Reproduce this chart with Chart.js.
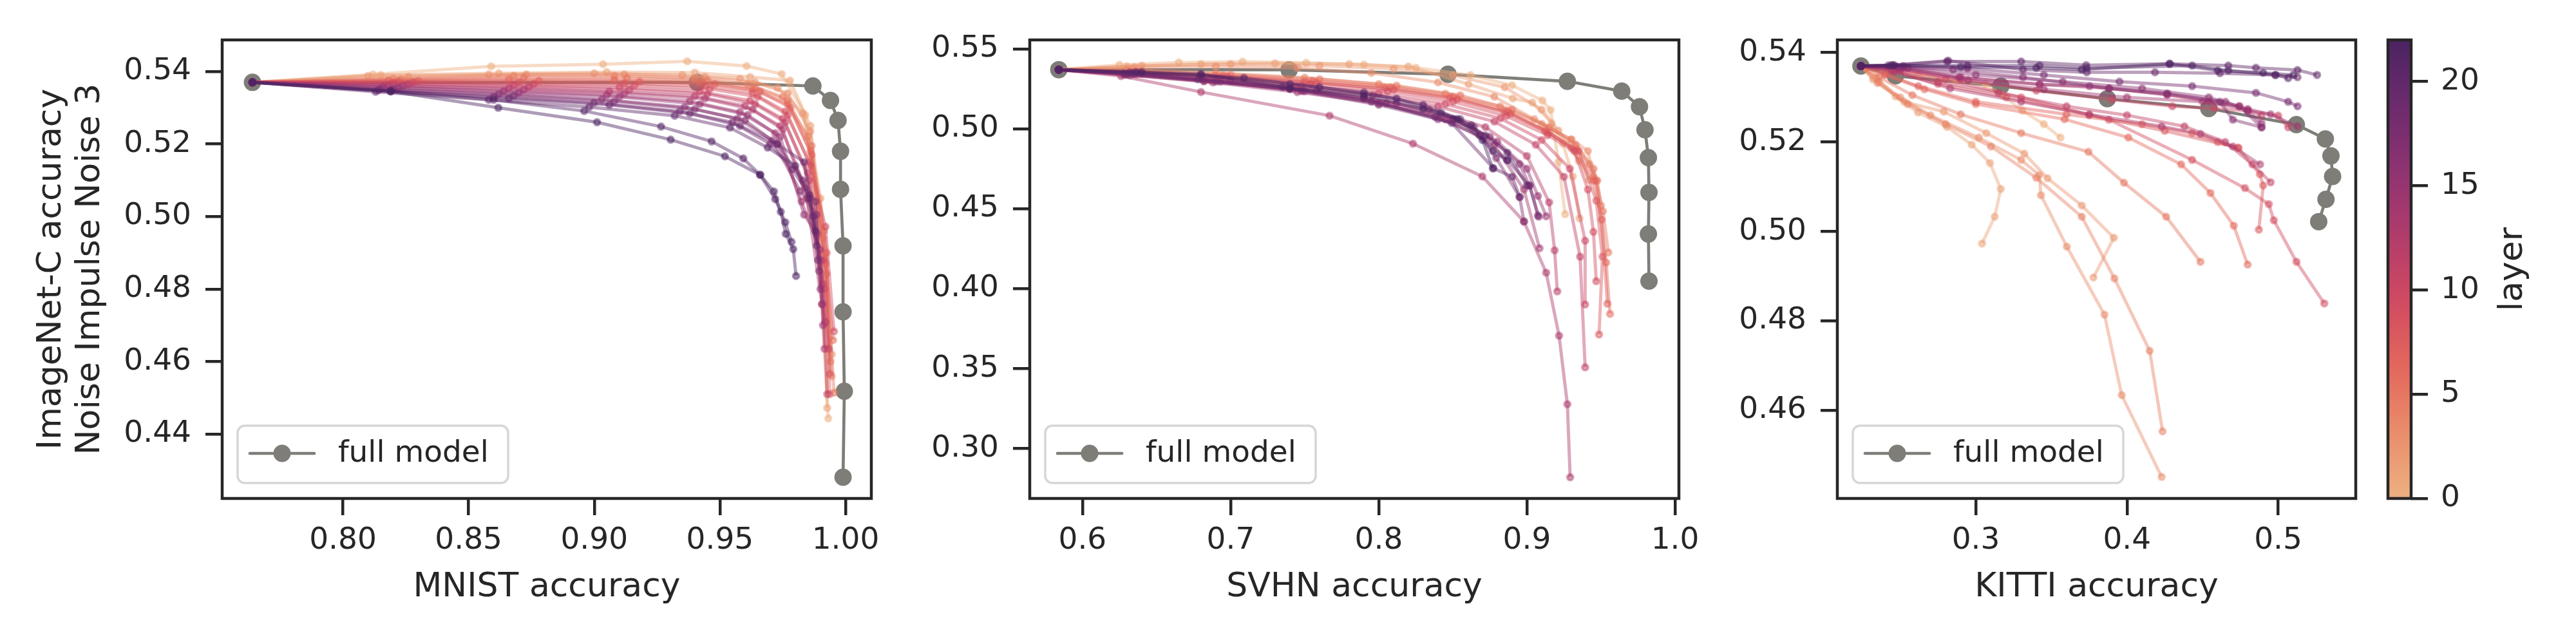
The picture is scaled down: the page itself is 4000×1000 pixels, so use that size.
<!DOCTYPE html>
<html>
<head>
<meta charset="utf-8">
<script src="https://cdn.jsdelivr.net/npm/chart.js@4.4.1/dist/chart.umd.min.js"></script>
<style>
html, body { margin: 0; padding: 0; background: #fff; }
#wrap { position: relative; width: 4000px; height: 1000px; overflow: hidden; background: #fff; }
canvas { position: absolute; top: 0; }
</style>
</head>
<body>
<div id="wrap">
  <canvas id="mnist" width="1368" height="1000" style="left:45px"></canvas>
  <canvas id="svhn" width="1268" height="1000" style="left:1399px"></canvas>
  <canvas id="kitti" width="1045" height="1000" style="left:2653px"></canvas>
  <canvas id="cbar" width="294" height="1000" style="left:3700px"></canvas>
</div>
<script>
// layer index of every coloured curve (same in all three panels)
const layers = [0, 1, 2, 3, 4, 5, 6, 7, 8, 9, 10, 11, 12, 13, 14, 15, 16, 17, 18, 19, 20, 21, 22];
const layerMax = 22;
const cbarTicks = [0, 5, 10, 15, 20];

// ---- MNIST panel ----
const mnistX = [
  [0.764, 0.812, 0.859, 0.9035, 0.937, 0.9606, 0.9746, 0.984, 0.989, 0.9931],
  [0.764, 0.815, 0.862, 0.905, 0.940, 0.962, 0.9779, 0.986, 0.9905, 0.9927],
  [0.764, 0.810, 0.858, 0.900, 0.935, 0.958, 0.973, 0.983, 0.990, 0.9945],
  [0.764, 0.826, 0.873, 0.912, 0.944, 0.964, 0.977, 0.986, 0.9915, 0.9945],
  [0.764, 0.820, 0.868, 0.908, 0.940, 0.961, 0.975, 0.985, 0.991, 0.9940],
  [0.764, 0.823, 0.872, 0.913, 0.945, 0.964, 0.977, 0.9865, 0.9925, 0.9954],
  [0.764, 0.818, 0.866, 0.908, 0.942, 0.963, 0.977, 0.986, 0.9920, 0.9950],
  [0.764, 0.830, 0.878, 0.918, 0.948, 0.966, 0.978, 0.9865, 0.9925, 0.9937],
  [0.764, 0.822, 0.870, 0.912, 0.944, 0.963, 0.976, 0.9855, 0.9915, 0.9937],
  [0.764, 0.828, 0.876, 0.916, 0.946, 0.965, 0.977, 0.9860, 0.9920, 0.9954],
  [0.764, 0.820, 0.868, 0.910, 0.942, 0.962, 0.975, 0.9850, 0.9915, 0.9933],
  [0.764, 0.826, 0.874, 0.914, 0.945, 0.964, 0.976, 0.9855, 0.9910, 0.9927],
  [0.764, 0.818, 0.866, 0.906, 0.940, 0.960, 0.974, 0.9840, 0.9906, 0.9920],
  [0.764, 0.824, 0.872, 0.912, 0.944, 0.963, 0.975, 0.9845, 0.9903, 0.9916],
  [0.764, 0.816, 0.864, 0.905, 0.938, 0.958, 0.972, 0.9825, 0.9899, 0.9910],
  [0.764, 0.822, 0.870, 0.910, 0.942, 0.961, 0.974, 0.9835, 0.9886, 0.9907],
  [0.764, 0.815, 0.862, 0.903, 0.936, 0.957, 0.971, 0.9820, 0.9884, 0.9900],
  [0.764, 0.820, 0.868, 0.908, 0.940, 0.960, 0.9728, 0.9830, 0.9880, 0.9895],
  [0.764, 0.814, 0.860, 0.900, 0.934, 0.955, 0.970, 0.9788, 0.9856, 0.9890],
  [0.764, 0.819, 0.866, 0.906, 0.938, 0.958, 0.9728, 0.9835, 0.9870, 0.9885],
  [0.764, 0.813, 0.858, 0.898, 0.932, 0.954, 0.9690, 0.9800, 0.9856, 0.9880],
  [0.764, 0.819, 0.860, 0.896, 0.9266, 0.9467, 0.9593, 0.966, 0.972, 0.976, 0.9785],
  [0.764, 0.819, 0.8618, 0.9011, 0.9304, 0.952, 0.966, 0.9715, 0.9742, 0.9762, 0.9792, 0.9803]
];
const mnistY = [
  [0.537, 0.5392, 0.5414, 0.5420, 0.5428, 0.5415, 0.5393, 0.528, 0.495, 0.4443],
  [0.537, 0.5390, 0.5395, 0.5398, 0.5397, 0.5385, 0.5375, 0.525, 0.490, 0.4472],
  [0.537, 0.5388, 0.5392, 0.5395, 0.5390, 0.5380, 0.5355, 0.5285, 0.505, 0.462],
  [0.537, 0.5385, 0.5392, 0.5392, 0.5385, 0.5370, 0.5340, 0.5235, 0.496, 0.4560],
  [0.537, 0.5380, 0.5388, 0.5388, 0.5380, 0.5365, 0.5330, 0.522, 0.494, 0.4600],
  [0.537, 0.5378, 0.5383, 0.5382, 0.5375, 0.5355, 0.5320, 0.5195, 0.4842, 0.4514],
  [0.537, 0.5376, 0.5378, 0.5377, 0.5370, 0.5350, 0.5310, 0.5180, 0.4870, 0.4659],
  [0.537, 0.5374, 0.5374, 0.5372, 0.5365, 0.5345, 0.5300, 0.5170, 0.4900, 0.4510],
  [0.537, 0.5372, 0.5370, 0.5367, 0.5360, 0.5340, 0.5290, 0.5150, 0.4880, 0.4566],
  [0.537, 0.5370, 0.5366, 0.5362, 0.5352, 0.5330, 0.5280, 0.5140, 0.4972, 0.4683],
  [0.537, 0.5368, 0.5362, 0.5356, 0.5345, 0.5320, 0.5270, 0.5120, 0.4800, 0.4635],
  [0.537, 0.5365, 0.5358, 0.5350, 0.5338, 0.5310, 0.5260, 0.5100, 0.4814, 0.4510],
  [0.537, 0.5362, 0.5354, 0.5345, 0.5332, 0.5305, 0.5250, 0.5080, 0.4758, 0.4709],
  [0.537, 0.5360, 0.5350, 0.5340, 0.5325, 0.5295, 0.5240, 0.5050, 0.4879, 0.4635],
  [0.537, 0.5358, 0.5346, 0.5335, 0.5318, 0.5288, 0.5230, 0.5041, 0.4909, 0.4700],
  [0.537, 0.5355, 0.5342, 0.5330, 0.5310, 0.5280, 0.5220, 0.5005, 0.4952, 0.4758],
  [0.537, 0.5352, 0.5338, 0.5323, 0.5302, 0.5270, 0.5210, 0.5070, 0.5005, 0.4800],
  [0.537, 0.5350, 0.5334, 0.5318, 0.5296, 0.5265, 0.5200, 0.5100, 0.5041, 0.4850],
  [0.537, 0.5348, 0.5330, 0.5314, 0.5290, 0.5260, 0.5200, 0.5130, 0.5060, 0.4880],
  [0.537, 0.5346, 0.5326, 0.5308, 0.5284, 0.5250, 0.5200, 0.5150, 0.5000, 0.4920],
  [0.537, 0.5344, 0.5322, 0.5302, 0.5278, 0.5245, 0.5190, 0.5140, 0.5050, 0.4960],
  [0.537, 0.5346, 0.5322, 0.5291, 0.5248, 0.5207, 0.5160, 0.5115, 0.5048, 0.4984, 0.4930],
  [0.537, 0.5345, 0.5300, 0.5260, 0.5212, 0.5166, 0.5115, 0.5069, 0.5013, 0.4952, 0.4910, 0.4836]
];
const mnistFullX = [0.764, 0.941, 0.987, 0.994, 0.997, 0.998, 0.998, 0.999, 0.999, 0.9995, 0.999];
const mnistFullY = [0.537, 0.537, 0.536, 0.532, 0.5265, 0.518, 0.5075, 0.4919, 0.4737, 0.4518, 0.4281];
const mnistXTicks = [0.80, 0.85, 0.90, 0.95, 1.00];
const mnistYTicks = [0.44, 0.46, 0.48, 0.50, 0.52, 0.54];

// ---- SVHN panel ----
const svhnX = [
  [0.584, 0.625, 0.665, 0.708, 0.751, 0.790, 0.825, 0.862, 0.890, 0.9104, 0.916, 0.9213, 0.9258],
  [0.584, 0.630, 0.680, 0.730, 0.780, 0.820, 0.8606, 0.8905, 0.9037, 0.9168, 0.9243, 0.931, 0.9355],
  [0.584, 0.640, 0.700, 0.760, 0.810, 0.850, 0.885, 0.910, 0.9213, 0.935, 0.942],
  [0.584, 0.635, 0.690, 0.745, 0.795, 0.840, 0.878, 0.905, 0.9299, 0.9412, 0.9450],
  [0.584, 0.630, 0.690, 0.750, 0.800, 0.845, 0.882, 0.910, 0.930, 0.9423, 0.9475, 0.9500],
  [0.584, 0.640, 0.700, 0.760, 0.812, 0.855, 0.890, 0.915, 0.933, 0.945, 0.9513, 0.955],
  [0.584, 0.635, 0.695, 0.755, 0.808, 0.850, 0.887, 0.912, 0.9337, 0.9468, 0.9535, 0.9561],
  [0.584, 0.632, 0.690, 0.750, 0.804, 0.848, 0.885, 0.913, 0.9300, 0.9449, 0.9505, 0.9543],
  [0.584, 0.638, 0.698, 0.758, 0.810, 0.853, 0.889, 0.915, 0.935, 0.9468, 0.9510, 0.9487],
  [0.584, 0.636, 0.694, 0.754, 0.806, 0.850, 0.886, 0.914, 0.932, 0.9412, 0.9449, 0.9468],
  [0.584, 0.634, 0.690, 0.748, 0.800, 0.845, 0.882, 0.910, 0.929, 0.9393, 0.9393],
  [0.584, 0.630, 0.686, 0.744, 0.796, 0.840, 0.878, 0.906, 0.925, 0.9359, 0.9393],
  [0.584, 0.628, 0.682, 0.740, 0.790, 0.834, 0.872, 0.900, 0.9150, 0.9187, 0.9205],
  [0.584, 0.626, 0.680, 0.7668, 0.8231, 0.8699, 0.898, 0.913, 0.9217, 0.9273, 0.9292],
  [0.584, 0.632, 0.688, 0.745, 0.800, 0.845, 0.878, 0.898, 0.9085],
  [0.584, 0.636, 0.693, 0.750, 0.805, 0.850, 0.880, 0.900, 0.9074, 0.9130],
  [0.584, 0.640, 0.700, 0.758, 0.812, 0.850, 0.875, 0.895, 0.9018, 0.9080],
  [0.584, 0.634, 0.690, 0.748, 0.800, 0.840, 0.8643, 0.8793, 0.8951, 0.898],
  [0.584, 0.630, 0.682, 0.740, 0.795, 0.8381, 0.8681, 0.8868, 0.9018, 0.9074],
  [0.584, 0.628, 0.678, 0.735, 0.790, 0.8493, 0.8774, 0.8900, 0.8951],
  [0.584, 0.632, 0.680, 0.740, 0.790, 0.830, 0.855, 0.872, 0.8868, 0.900],
  [0.584, 0.636, 0.709, 0.760, 0.812, 0.842, 0.8624, 0.877, 0.8868],
  [0.584, 0.640, 0.680, 0.740, 0.790, 0.830, 0.853, 0.870, 0.877]
];
const svhnY = [
  [0.537, 0.540, 0.5415, 0.5420, 0.5413, 0.5402, 0.5382, 0.5336, 0.5272, 0.5177, 0.5118, 0.4792, 0.4466],
  [0.537, 0.539, 0.5405, 0.541, 0.5405, 0.539, 0.5279, 0.519, 0.5164, 0.5035, 0.4907, 0.4702, 0.444],
  [0.537, 0.5395, 0.5405, 0.5395, 0.5375, 0.5335, 0.526, 0.512, 0.4989, 0.4800, 0.4680],
  [0.537, 0.5385, 0.5390, 0.5380, 0.5350, 0.5290, 0.5200, 0.5060, 0.4933, 0.4861, 0.4700],
  [0.537, 0.537, 0.535, 0.532, 0.528, 0.522, 0.514, 0.5030, 0.4933, 0.4779, 0.4676, 0.452],
  [0.537, 0.5362, 0.5340, 0.5310, 0.5270, 0.5210, 0.5120, 0.5010, 0.4900, 0.4750, 0.4484, 0.4227],
  [0.537, 0.5358, 0.5335, 0.5300, 0.5260, 0.5200, 0.5110, 0.4990, 0.4869, 0.4676, 0.4163, 0.3842],
  [0.537, 0.5355, 0.5330, 0.5295, 0.5255, 0.5195, 0.5105, 0.4985, 0.4880, 0.4676, 0.4432, 0.3906],
  [0.537, 0.5352, 0.5325, 0.5288, 0.5245, 0.5185, 0.5095, 0.4975, 0.4860, 0.4550, 0.4200, 0.3713],
  [0.537, 0.5350, 0.5320, 0.5280, 0.5235, 0.5170, 0.5080, 0.4960, 0.4861, 0.4620, 0.4355, 0.4047],
  [0.537, 0.5346, 0.5312, 0.5270, 0.5222, 0.5155, 0.5065, 0.4930, 0.4750, 0.4300, 0.3901],
  [0.537, 0.5342, 0.5305, 0.5262, 0.5210, 0.5140, 0.5045, 0.4900, 0.4700, 0.4200, 0.3508],
  [0.537, 0.5338, 0.5298, 0.5250, 0.5195, 0.5120, 0.5010, 0.4830, 0.4540, 0.4240, 0.3983],
  [0.537, 0.5330, 0.5230, 0.5082, 0.4907, 0.4702, 0.4420, 0.4100, 0.3706, 0.3277, 0.2820],
  [0.537, 0.5335, 0.5290, 0.5230, 0.5160, 0.5060, 0.4900, 0.4620, 0.4253],
  [0.537, 0.5340, 0.5295, 0.5235, 0.5160, 0.5060, 0.4920, 0.4750, 0.4580, 0.4453],
  [0.537, 0.5345, 0.5300, 0.5240, 0.5160, 0.5060, 0.4950, 0.4780, 0.4645, 0.4450],
  [0.537, 0.5342, 0.5296, 0.5236, 0.5150, 0.5060, 0.5010, 0.4817, 0.4573, 0.4420],
  [0.537, 0.5340, 0.5300, 0.5250, 0.5170, 0.5074, 0.4958, 0.4804, 0.4645, 0.4458],
  [0.537, 0.5345, 0.5310, 0.5262, 0.5190, 0.5036, 0.4753, 0.4700, 0.4573],
  [0.537, 0.5352, 0.5335, 0.5280, 0.5228, 0.5150, 0.5060, 0.4958, 0.4850, 0.4645],
  [0.537, 0.5355, 0.5318, 0.5260, 0.5189, 0.5100, 0.5023, 0.4860, 0.4804],
  [0.537, 0.5355, 0.5343, 0.5254, 0.5210, 0.5125, 0.5061, 0.4930, 0.4753]
];
const svhnFullX = [0.584, 0.7395, 0.8467, 0.9273, 0.964, 0.976, 0.9797, 0.982, 0.9824, 0.982, 0.9824];
const svhnFullY = [0.537, 0.5369, 0.5341, 0.5297, 0.5236, 0.5138, 0.4994, 0.482, 0.4602, 0.4342, 0.4047];
const svhnXTicks = [0.6, 0.7, 0.8, 0.9, 1.0];
const svhnYTicks = [0.30, 0.35, 0.40, 0.45, 0.50, 0.55];

// ---- KITTI panel ----
const kittiX = [
  [0.224, 0.238, 0.262, 0.287, 0.3065, 0.3179, 0.3307, 0.345, 0.356],
  [0.224, 0.234, 0.2469, 0.2618, 0.2809, 0.2973, 0.3094, 0.3165, 0.3125, 0.3041],
  [0.224, 0.232, 0.2526, 0.2788, 0.3069, 0.3321, 0.3474, 0.3701, 0.3913, 0.3778],
  [0.224, 0.236, 0.2500, 0.2700, 0.3020, 0.3300, 0.3420, 0.3431, 0.3602, 0.3851, 0.3965, 0.4229],
  [0.224, 0.235, 0.2550, 0.2800, 0.3100, 0.3400, 0.3701, 0.3917, 0.4150, 0.4235],
  [0.224, 0.236, 0.258, 0.290, 0.330, 0.3745, 0.3980, 0.4259, 0.4486],
  [0.224, 0.240, 0.266, 0.300, 0.3587, 0.4009, 0.4358, 0.4552, 0.4706, 0.4798],
  [0.224, 0.240, 0.262, 0.300, 0.3600, 0.4100, 0.4431, 0.4600, 0.4736],
  [0.224, 0.245, 0.275, 0.3202, 0.3750, 0.4250, 0.4736, 0.4879, 0.4901, 0.4872],
  [0.224, 0.246, 0.280, 0.330, 0.3880, 0.4431, 0.4780, 0.4938, 0.4971, 0.5121, 0.5305],
  [0.224, 0.250, 0.290, 0.340, 0.3900, 0.4300, 0.4578, 0.4800, 0.5000, 0.5066],
  [0.224, 0.244, 0.275, 0.315, 0.3600, 0.4000, 0.4380, 0.4650, 0.4830, 0.4950],
  [0.224, 0.250, 0.290, 0.3422, 0.3881, 0.4266, 0.4541, 0.4743, 0.4890],
  [0.224, 0.246, 0.283, 0.330, 0.375, 0.4229, 0.4486, 0.4700, 0.4880],
  [0.224, 0.250, 0.295, 0.345, 0.400, 0.4500, 0.4798, 0.4950, 0.5128],
  [0.224, 0.252, 0.289, 0.3422, 0.3752, 0.4266, 0.4651, 0.4798, 0.4890],
  [0.224, 0.255, 0.300, 0.3575, 0.4100, 0.4541, 0.4743, 0.4890],
  [0.224, 0.248, 0.285, 0.3312, 0.3881, 0.4266, 0.4615, 0.4700, 0.4890],
  [0.224, 0.252, 0.2945, 0.345, 0.3950, 0.4431, 0.4853, 0.5066, 0.5128],
  [0.224, 0.244, 0.2817, 0.3312, 0.3734, 0.4185, 0.4615, 0.4982, 0.5128],
  [0.224, 0.245, 0.281, 0.330, 0.373, 0.428, 0.467, 0.4853, 0.5128, 0.5257],
  [0.224, 0.242, 0.2945, 0.3422, 0.3734, 0.4431, 0.4670, 0.4982, 0.5066],
  [0.224, 0.246, 0.290, 0.3400, 0.3700, 0.4284, 0.4600, 0.4900, 0.5100]
];
const kittiY = [
  [0.537, 0.5365, 0.5350, 0.5338, 0.5330, 0.5304, 0.5270, 0.5240, 0.5210],
  [0.537, 0.5345, 0.5302, 0.5266, 0.5234, 0.5194, 0.5153, 0.5095, 0.5033, 0.4973],
  [0.537, 0.5340, 0.5290, 0.5268, 0.5220, 0.5174, 0.5119, 0.5058, 0.4986, 0.4897],
  [0.537, 0.5335, 0.5300, 0.5260, 0.5210, 0.5160, 0.5126, 0.5081, 0.4966, 0.4814, 0.4634, 0.4451],
  [0.537, 0.5332, 0.5285, 0.5240, 0.5190, 0.5120, 0.5033, 0.4895, 0.4733, 0.4553],
  [0.537, 0.5345, 0.5305, 0.5262, 0.5220, 0.5178, 0.5109, 0.5033, 0.4932],
  [0.537, 0.5350, 0.5318, 0.5285, 0.5251, 0.5210, 0.5150, 0.5086, 0.5013, 0.4926],
  [0.537, 0.5352, 0.5325, 0.5290, 0.5262, 0.5240, 0.5220, 0.5200, 0.5187],
  [0.537, 0.5358, 0.5330, 0.5300, 0.5260, 0.5225, 0.5187, 0.5128, 0.5103, 0.5004],
  [0.537, 0.5362, 0.5340, 0.5300, 0.5250, 0.5160, 0.5097, 0.5061, 0.5025, 0.4932, 0.4839],
  [0.537, 0.5362, 0.5340, 0.5315, 0.5295, 0.5280, 0.5275, 0.5270, 0.5259, 0.5233],
  [0.537, 0.5360, 0.5335, 0.5310, 0.5280, 0.5260, 0.5235, 0.5200, 0.5150, 0.5110],
  [0.537, 0.5365, 0.5345, 0.5329, 0.5320, 0.5306, 0.5290, 0.5280, 0.5259],
  [0.537, 0.5358, 0.5320, 0.5290, 0.5262, 0.5235, 0.5218, 0.5190, 0.5150],
  [0.537, 0.5364, 0.5338, 0.5318, 0.5300, 0.5290, 0.5274, 0.5262, 0.5235],
  [0.537, 0.5366, 0.5345, 0.5329, 0.5325, 0.5306, 0.5290, 0.5270, 0.5242],
  [0.537, 0.5366, 0.5350, 0.5335, 0.5320, 0.5300, 0.5280, 0.5233],
  [0.537, 0.5368, 0.5362, 0.5345, 0.5320, 0.5309, 0.5290, 0.5250, 0.5233],
  [0.537, 0.5370, 0.5365, 0.5350, 0.5335, 0.5325, 0.5310, 0.5290, 0.5280],
  [0.537, 0.5372, 0.5382, 0.5362, 0.5356, 0.5356, 0.5354, 0.5350, 0.5345],
  [0.537, 0.5372, 0.5380, 0.5380, 0.5372, 0.5375, 0.5371, 0.5366, 0.5361, 0.5350],
  [0.537, 0.5371, 0.5371, 0.5371, 0.5365, 0.5371, 0.5360, 0.5350, 0.5343],
  [0.537, 0.5372, 0.5368, 0.5366, 0.5362, 0.5375, 0.5360, 0.5355, 0.5350]
];
const kittiFullX = [0.224, 0.2468, 0.3165, 0.387, 0.4541, 0.512, 0.5312, 0.5349, 0.536, 0.5316, 0.5268];
const kittiFullY = [0.537, 0.5348, 0.5325, 0.5297, 0.5275, 0.5239, 0.5207, 0.5169, 0.5123, 0.5072, 0.5022];
const kittiXTicks = [0.3, 0.4, 0.5];
const kittiYTicks = [0.46, 0.48, 0.50, 0.52, 0.54];

// ---- styling ----
const INK = '#262626';
const FONT = 'DejaVu Sans';
const GREY = 'rgb(126,125,120)';
const flareStops = [
  [0, [237, 176, 129]], [1 / 7, [233, 141, 107]], [2 / 7, [227, 104, 92]], [3 / 7, [209, 74, 97]],
  [4 / 7, [177, 60, 108]], [5 / 7, [143, 51, 113]], [6 / 7, [108, 43, 109]], [1, [75, 35, 98]]
];

Chart.defaults.font.family = FONT;
Chart.defaults.color = INK;

function flare(t, alpha) {
  t = Math.max(0, Math.min(1, t));
  let i = 0;
  while (i < flareStops.length - 2 && t > flareStops[i + 1][0]) i++;
  const [t0, c0] = flareStops[i];
  const [t1, c1] = flareStops[i + 1];
  const f = (t - t0) / (t1 - t0);
  const c = c0.map((v, k) => Math.round(v + (c1[k] - v) * f));
  return `rgba(${c[0]},${c[1]},${c[2]},${alpha})`;
}

// the axes frame (all four spines)
const frame = {
  id: 'frame',
  afterDraw(chart) {
    const a = chart.chartArea, ctx = chart.ctx;
    ctx.save();
    ctx.strokeStyle = INK;
    ctx.lineWidth = 4.5;
    ctx.strokeRect(a.left, a.top, a.right - a.left, a.bottom - a.top);
    ctx.restore();
  }
};

// "full model" legend in the lower left corner
const fullLegend = {
  id: 'fullLegend',
  afterDraw(chart) {
    const a = chart.chartArea, ctx = chart.ctx;
    const w = 420, h = 89;
    const x = a.left + 24, y = a.bottom - 24 - h;
    ctx.save();
    ctx.beginPath();
    ctx.roundRect(x, y, w, h, 11);
    ctx.fillStyle = 'rgba(255,255,255,0.8)';
    ctx.fill();
    ctx.lineWidth = 3.5;
    ctx.strokeStyle = 'rgba(204,204,204,0.8)';
    ctx.stroke();
    const ly = y + 43;
    ctx.beginPath();
    ctx.moveTo(x + 19, ly);
    ctx.lineTo(x + 119, ly);
    ctx.strokeStyle = GREY;
    ctx.lineWidth = 4.7;
    ctx.lineCap = 'round';
    ctx.stroke();
    ctx.beginPath();
    ctx.arc(x + 69, ly, 13.5, 0, Math.PI * 2);
    ctx.fillStyle = GREY;
    ctx.fill();
    ctx.font = `47px "${FONT}"`;
    ctx.fillStyle = INK;
    ctx.textBaseline = 'middle';
    ctx.textAlign = 'left';
    ctx.fillText('full model', x + 156, ly + 1);
    ctx.restore();
  }
};

function tickAxis(ticks, dec, extra) {
  return Object.assign({
    type: 'linear',
    afterBuildTicks: s => { s.ticks = ticks.map(v => ({ value: v })); },
    ticks: {
      autoSkip: false, maxRotation: 0, color: INK,
      font: { family: FONT, size: 47 },
      callback: v => Number(v).toFixed(dec)
    },
    grid: {
      display: true, drawOnChartArea: false, drawTicks: true,
      tickLength: 26, tickWidth: 4.5, lineWidth: 4.5, tickColor: INK, color: INK
    },
    border: { display: false }
  }, extra);
}

function makePanel(id, xs, ys, fullX, fullY, o) {
  const datasets = [{
    label: 'full model',
    data: fullX.map((x, i) => ({ x: x, y: fullY[i] })),
    showLine: true,
    borderColor: GREY,
    backgroundColor: GREY,
    borderWidth: 4.7,
    pointRadius: 12,
    pointBorderWidth: 3,
    pointBorderColor: GREY,
    pointBackgroundColor: GREY,
    order: 100
  }];
  layers.forEach((L, i) => {
    const c = flare(L / layerMax, 0.45);
    datasets.push({
      label: 'layer ' + L,
      data: xs[i].map((x, j) => ({ x: x, y: ys[i][j] })),
      showLine: true,
      borderColor: c,
      backgroundColor: c,
      borderWidth: 5,
      pointRadius: 4.5,
      pointBorderWidth: 4,
      pointBorderColor: c,
      pointBackgroundColor: c,
      order: 50 - L
    });
  });

  const x = tickAxis(o.xTicks, o.xDec, {
    min: o.xMin, max: o.xMax,
    afterFit: s => { s.height = 226; },
    title: {
      display: true, text: o.xTitle, color: INK,
      font: { family: FONT, size: 52, lineHeight: 1.2 },
      padding: { top: 0, bottom: 56 }
    }
  });
  x.ticks.padding = 12;

  const y = tickAxis(o.yTicks, 2, {
    min: o.yMin, max: o.yMax,
    afterFit: s => { s.width = o.yWidth; }
  });
  y.ticks.padding = 22;
  if (o.yTitle) {
    y.title = {
      display: true, text: o.yTitle, color: INK,
      font: { family: FONT, size: 52, lineHeight: '60px' },
      padding: { top: 5, bottom: 0 }
    };
  }

  return new Chart(document.getElementById(id), {
    type: 'scatter',
    data: { datasets: datasets },
    options: {
      responsive: false,
      animation: false,
      events: [],
      layout: { autoPadding: false, padding: { left: 0, right: o.padRight, top: 62, bottom: 0 } },
      plugins: { legend: { display: false }, tooltip: { enabled: false } },
      scales: { x: x, y: y }
    },
    plugins: [frame, fullLegend]
  });
}

makePanel('mnist', mnistX, mnistY, mnistFullX, mnistFullY, {
  xMin: 0.75195, xMax: 1.01025, yMin: 0.42224, yMax: 0.5487,
  xTicks: mnistXTicks, xDec: 2, yTicks: mnistYTicks,
  xTitle: 'MNIST accuracy',
  yTitle: ['ImageNet-C accuracy', 'Noise Impulse Noise 3'],
  yWidth: 300, padRight: 60
});
makePanel('svhn', svhnX, svhnY, svhnFullX, svhnFullY, {
  xMin: 0.5644, xMax: 1.0026, yMin: 0.26875, yMax: 0.5556,
  xTicks: svhnXTicks, xDec: 1, yTicks: svhnYTicks,
  xTitle: 'SVHN accuracy',
  yWidth: 200, padRight: 60
});
makePanel('kitti', kittiX, kittiY, kittiFullX, kittiFullY, {
  xMin: 0.2084, xMax: 0.5513, yMin: 0.44028, yMax: 0.54284,
  xTicks: kittiXTicks, xDec: 1, yTicks: kittiYTicks,
  xTitle: 'KITTI accuracy',
  yWidth: 200, padRight: 40
});

// ---- colour bar ----
const cbarLabel = {
  id: 'cbarLabel',
  afterDraw(chart) {
    const ctx = chart.ctx, a = chart.chartArea;
    ctx.save();
    ctx.translate(a.right + 158, (a.top + a.bottom) / 2);
    ctx.rotate(-Math.PI / 2);
    ctx.font = `52px "${FONT}"`;
    ctx.fillStyle = INK;
    ctx.textAlign = 'center';
    ctx.textBaseline = 'middle';
    ctx.fillText('layer', 0, 0);
    ctx.restore();
  }
};

const cbarY = tickAxis(cbarTicks, 0, {
  position: 'right', min: 0, max: layerMax,
  afterFit: s => { s.width = 250; }
});
cbarY.ticks.padding = 20;

new Chart(document.getElementById('cbar'), {
  type: 'bar',
  data: {
    labels: ['layer'],
    datasets: [{
      data: [[0, layerMax]],
      borderWidth: 0,
      barPercentage: 1,
      categoryPercentage: 1,
      backgroundColor: c => {
        const a = c.chart.chartArea;
        if (!a) return flare(0.5, 1);
        const g = c.chart.ctx.createLinearGradient(0, a.bottom, 0, a.top);
        for (let k = 0; k <= 20; k++) g.addColorStop(k / 20, flare(k / 20, 1));
        return g;
      }
    }]
  },
  options: {
    responsive: false,
    animation: false,
    events: [],
    layout: { autoPadding: false, padding: { left: 8, right: 0, top: 62, bottom: 226 } },
    plugins: { legend: { display: false }, tooltip: { enabled: false } },
    scales: { x: { display: false }, y: cbarY }
  },
  plugins: [frame, cbarLabel]
});
</script>
</body>
</html>
